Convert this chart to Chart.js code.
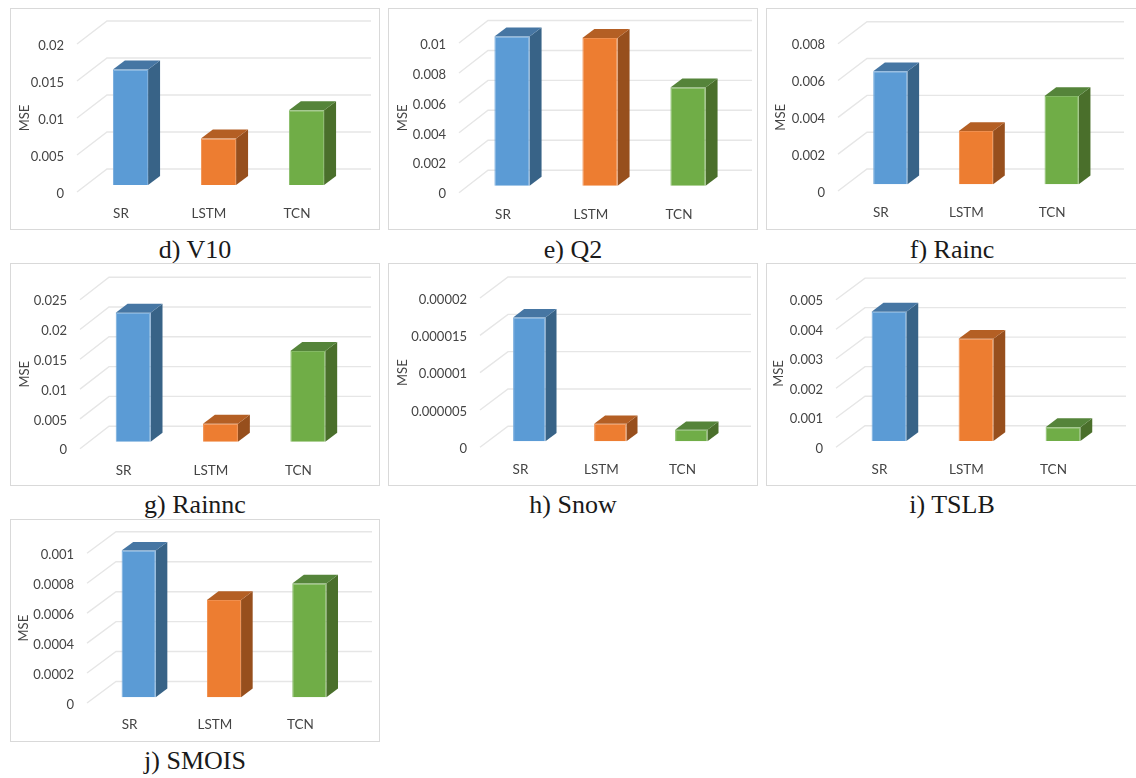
<!DOCTYPE html>
<html>
<head>
<meta charset="utf-8">
<title>MSE by model</title>
<script src="https://cdn.jsdelivr.net/npm/chart.js@4"></script>
<style>
  html, body { margin: 0; padding: 0; background: #fff; }
  #page { position: relative; width: 1136px; height: 778px; overflow: hidden; }
  .frame { position: absolute; box-sizing: border-box; border: 1px solid #d9d9d9; }
  .frame canvas { position: absolute; left: -1px; top: -1px; }
  .caption {
    position: absolute; width: 300px; text-align: center; color: #1a1a1a;
    font: 26px/30px "Liberation Serif", serif; white-space: nowrap;
  }
</style>
</head>
<body>
<div id="page"></div>
<script>
// --- Data ---
const categories = ['SR', 'LSTM', 'TCN'];

const v10Mse = [0.0156, 0.0063, 0.0101];
const q2Mse = [0.00997, 0.00986, 0.00656];
const raincMse = [0.00614, 0.0029, 0.0048];
const rainncMse = [0.02164, 0.00302, 0.01522];
const snowMse = [0.0000166, 0.00000236, 0.00000155];
const tslbMse = [0.00438, 0.00346, 0.00047];
const smoisMse = [0.00098, 0.00065, 0.00076];

const v10Ticks = ['0', '0.005', '0.01', '0.015', '0.02'];
const q2Ticks = ['0', '0.002', '0.004', '0.006', '0.008', '0.01'];
const raincTicks = ['0', '0.002', '0.004', '0.006', '0.008'];
const rainncTicks = ['0', '0.005', '0.01', '0.015', '0.02', '0.025'];
const snowTicks = ['0', '0.000005', '0.00001', '0.000015', '0.00002'];
const tslbTicks = ['0', '0.001', '0.002', '0.003', '0.004', '0.005'];
const smoisTicks = ['0', '0.0002', '0.0004', '0.0006', '0.0008', '0.001'];

// --- Colours: front face, side face, top face ---
const frontColors = ['#5b9bd5', '#ed7d31', '#70ad47'];
const edgeColors = ['#72a9dc', '#f08f4e', '#84b964'];
const sideColors = ['#386387', '#974f1d', '#4a6f2b'];
const topColors = ['#4676a3', '#b45f24', '#55843a'];
const wallColor = '#e6e6e6';
const textColor = '#444444';

// --- Panels: frame box, front plane of the walls, wall depth, bar offset into the depth ---
const panels = [
  { caption: 'd) V10', values: v10Mse, ticks: v10Ticks, frame: [10, 8, 370, 222], left: 77, right: 341, top: 44, zero: 192, wall: [30, 23], shift: [9.5, 7], titleX: 25, captionX: 195, captionY: 250 },
  { caption: 'e) Q2', values: q2Mse, ticks: q2Ticks, frame: [388, 8, 370, 222], left: 459, right: 723, top: 43, zero: 192.7, wall: [29, 22.5], shift: [9, 7], titleX: 403, captionX: 573, captionY: 250 },
  { caption: 'f) Rainc', values: raincMse, ticks: raincTicks, frame: [766, 8, 372, 222], left: 838, right: 1095, top: 43.7, zero: 191, wall: [29, 22], shift: [9.5, 6.7], titleX: 781, captionX: 952, captionY: 250 },
  { caption: 'g) Rainnc', values: rainncMse, ticks: rainncTicks, frame: [10, 263, 370, 223], left: 80, right: 342, top: 299.7, zero: 448.7, wall: [29, 22.5], shift: [9.5, 7], titleX: 25, captionX: 195, captionY: 505 },
  { caption: 'h) Snow', values: snowMse, ticks: snowTicks, frame: [388, 263, 370, 223], left: 480, right: 723, top: 298, zero: 447.3, wall: [28, 21], shift: [8.8, 6], titleX: 403, captionX: 573, captionY: 505 },
  { caption: 'i) TSLB', values: tslbMse, ticks: tslbTicks, frame: [766, 263, 372, 223], left: 836, right: 1097, top: 299.7, zero: 447.3, wall: [29, 21.6], shift: [9.5, 6.3], titleX: 779, captionX: 952, captionY: 505 },
  { caption: 'j) SMOIS', values: smoisMse, ticks: smoisTicks, frame: [10, 519, 370, 223], left: 87, right: 343, top: 553.3, zero: 703, wall: [29, 21.5], shift: [9, 5.7], titleX: 24, captionX: 195, captionY: 761 },
];

Chart.defaults.font.family = 'Lato, "Open Sans", sans-serif';
Chart.defaults.color = textColor;
Chart.defaults.animation = false;

// Back wall, side wall and floor lines, one bent line per y tick
const wallPlugin = {
  id: 'walls',
  beforeDatasetsDraw(chart, args, opts) {
    const { ctx, chartArea, scales } = chart;
    const [dx, dy] = opts.wall;
    ctx.save();
    ctx.strokeStyle = wallColor;
    ctx.lineWidth = 1.4;
    scales.y.ticks.forEach(tick => {
      const y = scales.y.getPixelForValue(tick.value);
      ctx.beginPath();
      ctx.moveTo(chartArea.left, y);
      ctx.lineTo(chartArea.left + dx, y - dy);
      ctx.lineTo(chartArea.right + dx, y - dy);
      ctx.stroke();
    });
    ctx.restore();
  }
};

// Bars sit part way into the floor; the side and top faces are added behind the front face
const extrudePlugin = {
  id: 'extrude',
  beforeDatasetDraw(chart, args, opts) {
    const { ctx } = chart;
    const [sx, sy] = opts.shift;
    ctx.save();
    ctx.translate(sx, -sy);
    args.meta.data.forEach((bar, i) => {
      const { x, y, base, width } = bar.getProps(['x', 'y', 'base', 'width'], true);
      const l = x - width / 2;
      const r = x + width / 2;
      const dx = width * 0.34;
      const dy = width * 0.255;

      ctx.fillStyle = sideColors[i];
      ctx.beginPath();
      ctx.moveTo(r, base);
      ctx.lineTo(r + dx, base - dy);
      ctx.lineTo(r + dx, y - dy);
      ctx.lineTo(r, y);
      ctx.closePath();
      ctx.fill();

      ctx.fillStyle = topColors[i];
      ctx.beginPath();
      ctx.moveTo(l, y);
      ctx.lineTo(l + dx, y - dy);
      ctx.lineTo(r + dx, y - dy);
      ctx.lineTo(r, y);
      ctx.closePath();
      ctx.fill();
    });
  },
  afterDatasetDraw(chart) {
    chart.ctx.restore();
  }
};

const page = document.getElementById('page');

panels.forEach(panel => {
  const [fx, fy, fw, fh] = panel.frame;

  const frame = document.createElement('div');
  frame.className = 'frame';
  frame.style.cssText = `left:${fx}px;top:${fy}px;width:${fw}px;height:${fh}px`;
  const canvas = document.createElement('canvas');
  canvas.width = fw;
  canvas.height = fh;
  canvas.style.width = fw + 'px';
  canvas.style.height = fh + 'px';
  frame.appendChild(canvas);
  page.appendChild(frame);

  const caption = document.createElement('div');
  caption.className = 'caption';
  caption.textContent = panel.caption;
  caption.style.left = (panel.captionX - 150) + 'px';
  caption.style.top = (panel.captionY - 15) + 'px';
  page.appendChild(caption);

  new Chart(canvas, {
    type: 'bar',
    data: {
      labels: categories,
      datasets: [{
        label: 'MSE',
        data: panel.values,
        backgroundColor: frontColors,
        borderColor: edgeColors,
        borderWidth: 1,
        barPercentage: 0.4,
        categoryPercentage: 1,
        clip: false
      }]
    },
    options: {
      responsive: false,
      maintainAspectRatio: false,
      layout: {
        padding: {
          left: 0,
          top: panel.top - fy,
          right: fx + fw - panel.right,
          bottom: 0
        }
      },
      plugins: {
        legend: { display: false },
        tooltip: { enabled: false },
        walls: { wall: panel.wall },
        extrude: { shift: panel.shift }
      },
      scales: {
        x: {
          grid: { display: false, drawTicks: false },
          border: { display: false },
          ticks: { font: { size: 13.5 }, padding: 14, maxRotation: 0, autoSkip: false },
          afterFit(scale) { scale.height = fy + fh - panel.zero; }
        },
        y: {
          min: 0,
          max: Number(panel.ticks[panel.ticks.length - 1]),
          grid: { display: false, drawTicks: false },
          border: { display: false },
          title: {
            display: true,
            text: 'MSE',
            font: { size: 13 },
            padding: { top: panel.titleX - fx - 8, bottom: 0 }
          },
          ticks: {
            font: { size: 13 },
            padding: 13,
            labelOffset: 1.5,
            autoSkip: false,
            callback: (value, i) => panel.ticks[i]
          },
          afterBuildTicks(scale) { scale.ticks = panel.ticks.map(t => ({ value: Number(t) })); },
          afterFit(scale) { scale.width = panel.left - fx; }
        }
      }
    },
    plugins: [wallPlugin, extrudePlugin]
  });
});
</script>
</body>
</html>
